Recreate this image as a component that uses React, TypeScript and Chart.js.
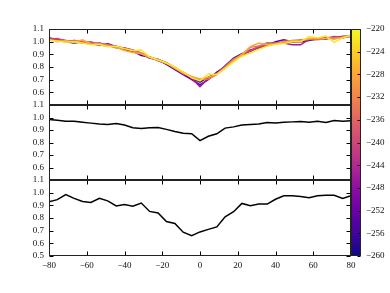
import React, { useEffect, useRef } from "react";
import { Chart, registerables } from "chart.js";

Chart.register(...registerables);

const xValues = [
  -80, -75.6, -71.1, -66.7, -62.2, -57.8, -53.3, -48.9, -44.4, -40, -35.6, -31.1, -26.7,
  -22.2, -17.8, -13.3, -8.9, -4.4, 0, 4.4, 8.9, 13.3, 17.8, 22.2, 26.7, 31.1, 35.6, 40,
  44.4, 48.9, 53.3, 57.8, 62.2, 66.7, 71.1, 75.6, 80,
];

// top panel: one curve per colour-bar value
const topSeriesValues = [-258, -252, -246, -240, -234, -228, -222];
const topSeriesColors = ["#270592", "#6a00a8", "#a01a9c", "#cc4778", "#ea7457", "#fca636", "#f6e826"];
const topA = [1.03, 1.01, 1.0, 0.99, 1.0, 0.985, 0.975, 0.965, 0.96, 0.94, 0.925, 0.89, 0.88, 0.85, 0.825, 0.785, 0.745, 0.71, 0.68, 0.72, 0.75, 0.81, 0.87, 0.905, 0.925, 0.96, 0.99, 0.985, 0.995, 1.0, 1.0, 1.01, 1.02, 1.03, 1.03, 1.04, 1.04];
const topB = [1.025, 1.02, 1.0, 1.01, 0.995, 0.98, 0.99, 0.97, 0.965, 0.935, 0.93, 0.9, 0.87, 0.86, 0.82, 0.78, 0.74, 0.7, 0.66, 0.7, 0.76, 0.8, 0.855, 0.89, 0.935, 0.95, 0.97, 1.0, 1.015, 1.0, 1.0, 1.015, 1.03, 1.02, 1.04, 1.03, 1.05];
const topC = [1.03, 1.02, 1.01, 0.995, 1.0, 0.99, 0.97, 0.985, 0.96, 0.95, 0.935, 0.91, 0.87, 0.86, 0.835, 0.795, 0.75, 0.71, 0.645, 0.71, 0.75, 0.795, 0.85, 0.895, 0.925, 0.955, 0.97, 0.985, 0.99, 0.975, 0.975, 1.02, 1.02, 1.03, 1.035, 1.04, 1.045];
const topD = [1.02, 1.025, 1.005, 1.0, 0.99, 1.0, 0.98, 0.975, 0.955, 0.95, 0.93, 0.905, 0.88, 0.85, 0.83, 0.795, 0.755, 0.72, 0.7, 0.715, 0.745, 0.81, 0.865, 0.9, 0.93, 0.96, 0.975, 0.99, 0.995, 1.01, 1.01, 1.02, 1.025, 1.03, 1.03, 1.035, 1.045];
const topE = [1.015, 1.01, 1.0, 1.01, 1.005, 0.99, 0.985, 0.975, 0.95, 0.945, 0.93, 0.91, 0.88, 0.86, 0.83, 0.79, 0.76, 0.72, 0.7, 0.705, 0.74, 0.8, 0.86, 0.89, 0.955, 0.965, 0.99, 0.985, 1.0, 1.005, 1.015, 1.02, 1.015, 1.025, 1.035, 1.03, 1.04];
const topF = [1.02, 1.0, 1.01, 0.995, 1.015, 0.98, 0.975, 0.965, 0.955, 0.93, 0.915, 0.905, 0.875, 0.855, 0.835, 0.79, 0.75, 0.725, 0.705, 0.72, 0.745, 0.79, 0.85, 0.9, 0.96, 0.99, 0.975, 0.98, 1.0, 1.01, 1.005, 1.025, 1.03, 1.025, 1.02, 1.035, 1.05];
const topG = [1.01, 1.005, 0.995, 1.0, 0.99, 0.975, 0.98, 0.96, 0.965, 0.945, 0.93, 0.935, 0.88, 0.855, 0.83, 0.8, 0.76, 0.715, 0.69, 0.745, 0.74, 0.79, 0.84, 0.885, 0.91, 0.94, 0.965, 0.98, 0.985, 1.0, 1.0, 1.04, 1.03, 1.045, 0.995, 1.03, 1.05];
const topSeries = [topA, topB, topC, topD, topE, topF, topG];

const middleValues = [0.984, 0.978, 0.97, 0.97, 0.962, 0.955, 0.948, 0.944, 0.952, 0.94, 0.918, 0.913, 0.918, 0.92, 0.905, 0.888, 0.874, 0.87, 0.815, 0.85, 0.87, 0.915, 0.925, 0.94, 0.944, 0.948, 0.96, 0.957, 0.962, 0.965, 0.968, 0.963, 0.97, 0.96, 0.975, 0.97, 0.975];
const bottomValues = [0.928, 0.945, 0.985, 0.955, 0.93, 0.922, 0.955, 0.935, 0.895, 0.906, 0.893, 0.918, 0.852, 0.84, 0.772, 0.757, 0.688, 0.66, 0.69, 0.71, 0.73, 0.81, 0.85, 0.915, 0.897, 0.91, 0.91, 0.948, 0.975, 0.976, 0.97, 0.96, 0.975, 0.98, 0.98, 0.955, 0.975];

const xTickStep = 20;
const yTickStep = 0.1;
const colorbarMin = -260;
const colorbarMax = -220;
const colorbarStep = 4;
const plasmaStops = ["#0d0887", "#41049d", "#6a00a8", "#8f0da4", "#b12a90", "#cc4778", "#e16462", "#f2844b", "#fca636", "#fcce25", "#f0f921"];

const FONT = { family: "'Liberation Serif', 'DejaVu Serif', serif", size: 9 };
const TEXT = "#111";
const W = 390;
const H = 293;

const framePlugin = {
  id: "frame",
  afterDraw(chart: any) {
    const { ctx, chartArea: a, scales } = chart;
    const l = Math.round(a.left) + 0.5;
    const r = Math.round(a.right) - 0.5;
    const t = Math.round(a.top) + 0.5;
    const b = Math.round(a.bottom) - 0.5;
    ctx.save();
    ctx.strokeStyle = "#000";
    ctx.lineWidth = 1;
    ctx.beginPath();
    if (scales.x && scales.x.type === "linear") {
      scales.x.ticks.forEach((tk: any) => {
        const px = Math.round(scales.x.getPixelForValue(tk.value)) + 0.5;
        ctx.moveTo(px, t);
        ctx.lineTo(px, t + 4);
        ctx.moveTo(px, b);
        ctx.lineTo(px, b - 4);
      });
    }
    if (scales.y) {
      const isBar = chart.config.type === "bar";
      scales.y.ticks.forEach((tk: any) => {
        const py = Math.round(scales.y.getPixelForValue(tk.value)) + 0.5;
        if (!isBar) {
          ctx.moveTo(l, py);
          ctx.lineTo(l + 4, py);
        }
        ctx.moveTo(r, py);
        ctx.lineTo(r - (isBar ? 3 : 4), py);
      });
    }
    ctx.stroke();
    ctx.strokeStyle = "#222";
    ctx.strokeRect(l, t, r - l, b - t);
    ctx.restore();
  },
};

function panelOptions(top: number, bottom: number, showX: boolean, showHalf: boolean) {
  return {
    responsive: false,
    animation: false as const,
    layout: { padding: { left: 19, right: W - 351, top, bottom: H - bottom - 20 } },
    plugins: { legend: { display: false }, tooltip: { enabled: false } },
    elements: { point: { radius: 0 }, line: { tension: 0 } },
    scales: {
      x: {
        type: "linear" as const,
        min: -80,
        max: 80,
        grid: { display: false, drawTicks: false },
        border: { display: false },
        afterFit: (s: any) => {
          s.height = 20;
        },
        ticks: {
          display: showX,
          autoSkip: false,
          stepSize: xTickStep,
          padding: 4,
          color: TEXT,
          font: FONT,
          maxRotation: 0,
          callback: (v: any) => (v < 0 ? "\u2212" + Math.abs(v) : String(v)),
        },
      },
      y: {
        type: "linear" as const,
        min: 0.5,
        max: 1.1,
        grid: { display: false, drawTicks: false },
        border: { display: false },
        afterFit: (s: any) => {
          s.width = 30;
        },
        ticks: {
          autoSkip: false,
          stepSize: yTickStep,
          padding: 5,
          color: TEXT,
          font: FONT,
          callback: (v: any) => {
            const n = Math.round(v * 10) / 10;
            if (!showHalf && n <= 0.5) return "";
            return n.toFixed(1);
          },
        },
      },
    },
  };
}

function toPoints(values: number[]) {
  return values.map((y, i) => ({ x: xValues[i], y }));
}

export default function App() {
  const c1 = useRef<HTMLCanvasElement>(null);
  const c2 = useRef<HTMLCanvasElement>(null);
  const c3 = useRef<HTMLCanvasElement>(null);
  const c4 = useRef<HTMLCanvasElement>(null);

  useEffect(() => {
    const charts: Chart[] = [];
    const topDatasets = topSeries
      .map((s, i) => ({
        label: String(topSeriesValues[i]),
        data: toPoints(s),
        borderColor: topSeriesColors[i],
        borderWidth: 1.5,
        pointRadius: 0,
        fill: false,
      }))
      .reverse();
    charts.push(
      new Chart(c1.current!, {
        type: "line",
        data: { datasets: topDatasets as any },
        options: panelOptions(29, 105, false, false) as any,
        plugins: [framePlugin],
      })
    );
    charts.push(
      new Chart(c2.current!, {
        type: "line",
        data: {
          datasets: [
            { label: "mid", data: toPoints(middleValues), borderColor: "#000", borderWidth: 1.5, pointRadius: 0, fill: false },
          ],
        },
        options: panelOptions(105, 180, false, false) as any,
        plugins: [framePlugin],
      })
    );
    charts.push(
      new Chart(c3.current!, {
        type: "line",
        data: {
          datasets: [
            { label: "bot", data: toPoints(bottomValues), borderColor: "#000", borderWidth: 1.5, pointRadius: 0, fill: false },
          ],
        },
        options: panelOptions(180, 256, true, true) as any,
        plugins: [framePlugin],
      })
    );
    charts.push(
      new Chart(c4.current!, {
        type: "bar",
        data: {
          labels: ["cb"],
          datasets: [
            {
              label: "colorbar",
              data: [[colorbarMin, colorbarMax]] as any,
              barPercentage: 1,
              categoryPercentage: 1,
              borderWidth: 0,
              backgroundColor: (ctx: any) => {
                const chart = ctx.chart;
                const y = chart.scales && chart.scales.y;
                if (!y) return plasmaStops[5];
                const y0 = y.getPixelForValue(colorbarMin);
                const y1 = y.getPixelForValue(colorbarMax);
                if (!isFinite(y0) || !isFinite(y1) || y0 === y1) return plasmaStops[5];
                const g = chart.ctx.createLinearGradient(0, y0, 0, y1);
                plasmaStops.forEach((c, i) => g.addColorStop(i / (plasmaStops.length - 1), c));
                return g;
              },
            },
          ],
        },
        options: {
          responsive: false,
          animation: false,
          layout: { padding: { left: 351, right: 0, top: 29, bottom: H - 256 } },
          plugins: { legend: { display: false }, tooltip: { enabled: false } },
          scales: {
            x: { type: "category", display: false, grid: { display: false } },
            y: {
              type: "linear",
              position: "right",
              min: colorbarMin,
              max: colorbarMax,
              grid: { display: false, drawTicks: false },
              border: { display: false },
              afterFit: (s: any) => {
                s.width = W - 361;
              },
              ticks: {
                autoSkip: false,
                stepSize: colorbarStep,
                padding: 5,
                color: TEXT,
                font: FONT,
                callback: (v: any) => (v < 0 ? "\u2212" + Math.abs(v) : String(v)),
              },
            },
          },
        } as any,
        plugins: [framePlugin],
      })
    );
    return () => charts.forEach((c) => c.destroy());
  }, []);

  const cs: React.CSSProperties = { position: "absolute", left: 0, top: 0, width: W, height: H };
  return (
    <div style={{ position: "fixed", left: 0, top: 0, width: W, height: H, background: "#fff" }}>
      <canvas ref={c1} width={W} height={H} style={cs} />
      <canvas ref={c2} width={W} height={H} style={cs} />
      <canvas ref={c3} width={W} height={H} style={cs} />
      <canvas ref={c4} width={W} height={H} style={cs} />
    </div>
  );
}
